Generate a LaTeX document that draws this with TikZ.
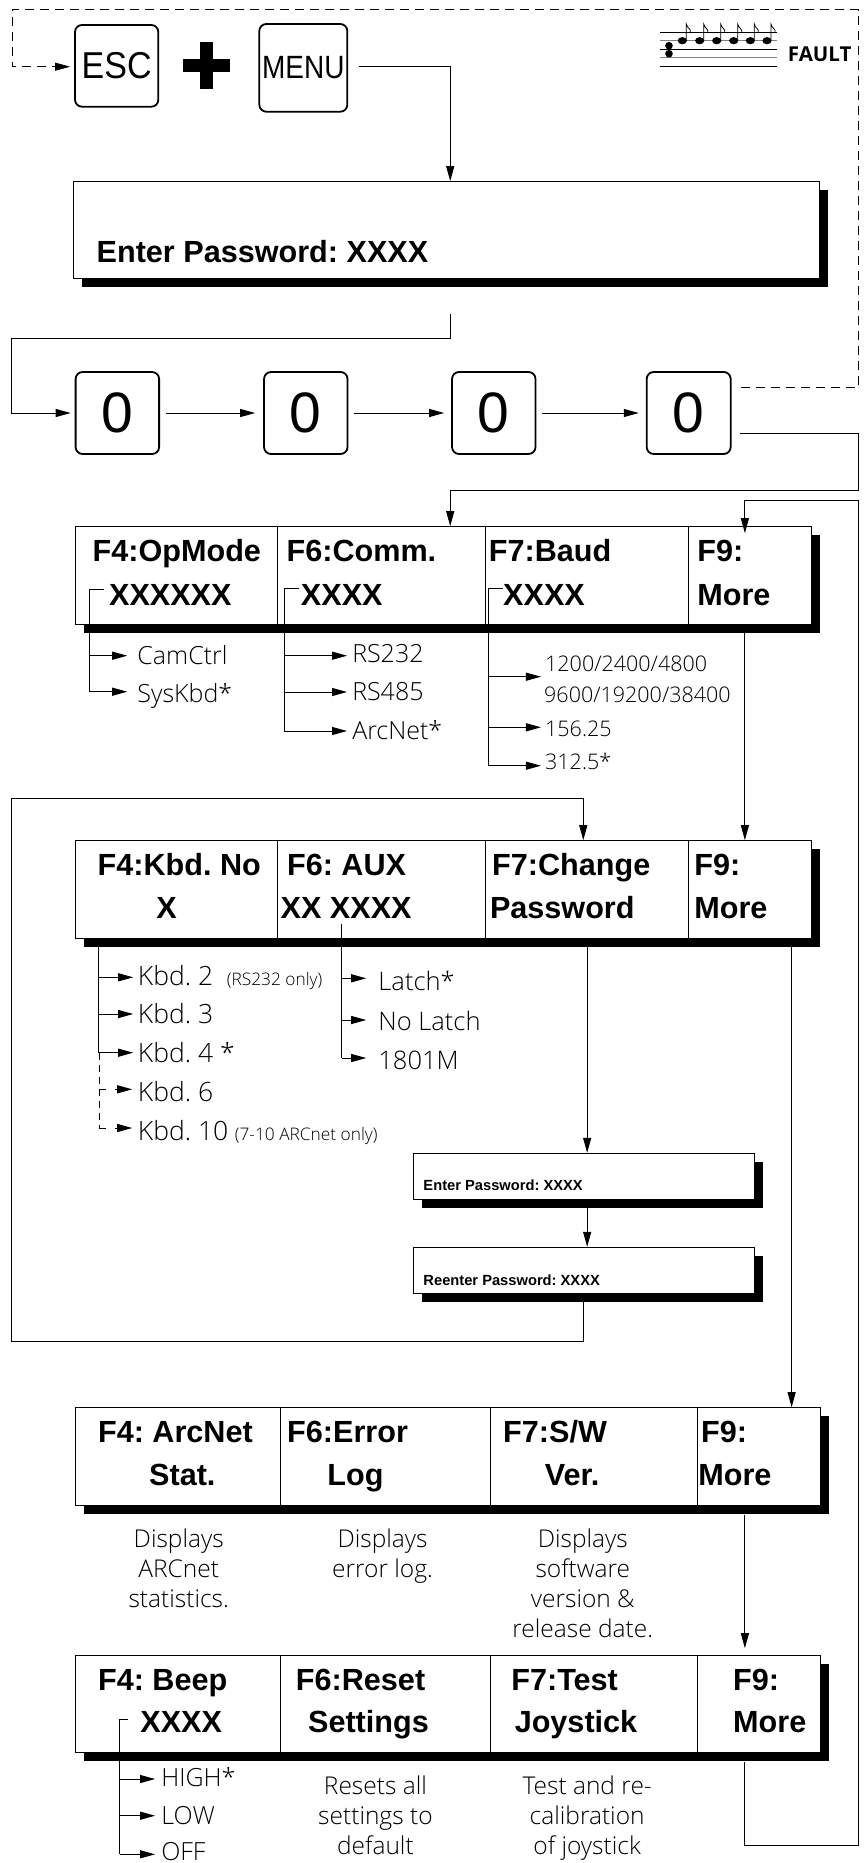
\documentclass[tikz,border=0pt]{standalone}
\usepackage{fontspec}
\setmainfont{Liberation Sans}
\newfontfamily\optfont{Open Sans}[UprightFont=* Light,BoldFont=* Bold]
\usetikzlibrary{arrows.meta,shadows}
\newcommand{\menufont}{\bfseries\fontsize{30.6}{36}\selectfont}
\newcommand{\smallmenufont}{\bfseries\fontsize{14.7}{18}\selectfont}
\tikzset{
  panel/.style={draw, fill=white, inner sep=0pt, line width=1pt,
    drop shadow={shadow xshift=8.5pt, shadow yshift=-8.5pt, fill=black, opacity=1}},
  keybox/.style={draw, fill=white, rounded corners=7pt, line width=1.8pt, inner sep=0pt},
  lab/.style={anchor=base west, inner sep=0pt, font=\menufont},
  optlab/.style={anchor=base west, inner sep=0pt, font=\optfont\fontsize{25}{30}\selectfont},
  kbdlab/.style={anchor=base west, inner sep=0pt, font=\optfont\fontsize{26.5}{30}\selectfont},
  baudlab/.style={anchor=base west, inner sep=0pt, font=\optfont\fontsize{21.5}{26}\selectfont},
  notelab/.style={anchor=base west, inner sep=0pt, font=\optfont\fontsize{17.3}{20}\selectfont},
  desc/.style={anchor=north, align=center, inner sep=0pt, font=\optfont\fontsize{24.5}{30}\selectfont},
  conn/.style={line width=1pt},
  arr/.style={conn, -{Triangle[length=15pt,width=8pt]}},
  dashline/.style={line width=0.8pt, dash pattern=on 9pt off 6pt}
}

\begin{document}
\frenchspacing
\begin{tikzpicture}[x=0.9945pt, y=-1pt]
  \useasboundingbox (0,0) rectangle (867.8,1863);

  % ---------- key combination and fault tune ----------
  \node[keybox, minimum width=83.3pt, minimum height=81.7pt, font=\fontsize{34}{40}\selectfont] (esckey) at (117.3,65.85) {\scalebox{1}[1.1]{ESC}};
  \node[keybox, minimum width=88pt, minimum height=87.7pt, font=\fontsize{28}{32}\selectfont] (menukey) at (305,67.85) {\scalebox{1}[1.15]{MENU}};
  \fill (201,42.3) rectangle (214,88.7);
  \fill (184,59) rectangle (231,71.7);

  \begin{scope}[x=1pt]
    \foreach \y/\c in {32.3/black,40.7/gray,49.3/black,57.7/gray,66.3/black}
      \draw[color=\c, line width=1pt] (660,\y) -- (777,\y);
    \fill (669,45.7) circle (3.8);
    \fill (669,53.7) circle (3.8);
    \foreach \x in {682.3,699.7,716.7,733.7,750.3,767} {
      \fill (\x,40.7) ellipse (4.6 and 3.6);
      \draw[line width=0.8pt] (\x+4,40) -- (\x+4,24) .. controls (\x+5,29) and (\x+9,28) .. (\x+8,33);
    }
    \node[lab, font=\optfont\bfseries\fontsize{20.5}{26}\selectfont] (faultlab) at (787.7,61.7) {FAULT};
  \end{scope}

  % ---------- password prompt and the four zero keys ----------
  \node[panel, minimum width=746pt, minimum height=97.3pt] (enterbox) at (449,230.3) {};
  \node[lab] (enterlab) at (97,262) {Enter Password: XXXX};

  \node[keybox, minimum width=83.5pt, minimum height=82pt, font=\fontsize{57}{60}\selectfont] (keyone) at (118,413) {0};
  \node[keybox, minimum width=83.5pt, minimum height=82pt, font=\fontsize{57}{60}\selectfont] (keytwo) at (307.5,413) {0};
  \node[keybox, minimum width=83.5pt, minimum height=82pt, font=\fontsize{57}{60}\selectfont] (keythree) at (496.5,413) {0};
  \node[keybox, minimum width=84pt, minimum height=82pt, font=\fontsize{57}{60}\selectfont] (keyfour) at (692.5,413) {0};

  \coordinate (enterout) at (452.7,314);
  \coordinate (leftturn) at (11.6,338);
  \draw[arr, shorten <=11pt, shorten >=0pt] (menukey.east |- 0,66) -| (452.7,0 |- enterbox.north);
  \draw[arr, shorten >=4pt] (enterout) |- (leftturn) |- (keyone.west);
  \draw[arr, shorten <=6pt, shorten >=8pt] (keyone.east) -- (keytwo.west);
  \draw[arr, shorten <=6pt, shorten >=7pt] (keytwo.east) -- (keythree.west);
  \draw[arr, shorten <=6pt, shorten >=7pt] (keythree.east) -- (keyfour.west);

  % fault loop back to ESC
  \coordinate (dashse) at (863.4,387.7);
  \coordinate (dashne) at (863.4,9.5);
  \coordinate (dashnw) at (12,9.5);
  \draw[dashline, -{Triangle[length=15pt,width=8pt]}, shorten <=9.5pt, shorten >=4pt]
    (keyfour.east |- dashse) -- (dashse) -- (dashne) -- (dashnw) |- (esckey.west |- 0,66.7);

  % ---------- first menu ----------
  \node[panel, minimum width=735.5pt, minimum height=97.3pt] (mone) at (445.7,575.35) {};
  \foreach \x in {279,488,692.7} \draw[conn] (\x,0 |- mone.north) -- (\x,0 |- mone.south);
  \node[lab] (opmode) at (93,561.7) {F4:OpMode};
  \node[lab] (opval) at (109.5,605) {XXXXXX};
  \node[lab] (comm) at (288,561.7) {F6:Comm.};
  \node[lab] (commval) at (302.4,605) {XXXX};
  \node[lab] (baud) at (491.4,561.7) {F7:Baud};
  \node[lab] (baudval) at (505.8,605) {XXXX};
  \node[lab] (moreone) at (701,561.7) {F9:};
  \node[lab] (moreoneb) at (701,605) {More};

  \node[optlab] (camctrl) at (138,664) {CamCtrl};
  \node[optlab] (syskbd) at (138,702) {SysKbd*};
  \node[optlab] (rstwo) at (354,662.7) {RS232};
  \node[optlab] (rsfour) at (354,700.7) {RS485};
  \node[optlab] (arcnet) at (354,739.3) {ArcNet*};
  \node[baudlab] (baudone) at (548,671) {1200/2400/4800};
  \node[baudlab] (baudtwo) at (547,702.7) {9600/19200/38400};
  \node[baudlab] (baudthree) at (548,736) {156.25};
  \node[baudlab] (baudfour) at (548,769.3) {312.5*};

  \coordinate (rightone) at (863.4,433.3);
  \coordinate (righttwo) at (863.4,490.7);
  \draw[arr, shorten <=8.5pt] (keyfour.east |- rightone) -- (rightone) -- (righttwo) -| (452.7,0 |- mone.north);

  \coordinate (opstart) at (105,589);
  \coordinate (opend) at (90,691.7);
  \draw[conn] (opstart) -| (opend);
  \foreach \n/\y in {camctrl/655.7,syskbd/691.7}
    \draw[arr, shorten >=10pt] (opend |- 0,\y) -- (\n.west |- 0,\y);
  \coordinate (commstart) at (301,588);
  \coordinate (commend) at (285.8,731);
  \draw[conn] (commstart) -| (commend);
  \foreach \n/\y in {rstwo/655.7,rsfour/692,arcnet/731}
    \draw[arr, shorten >=5pt] (commend |- 0,\y) -- (\n.west |- 0,\y);
  \coordinate (baudstart) at (505.8,588);
  \coordinate (baudend) at (491.4,765.7);
  \draw[conn] (baudstart) -| (baudend);
  \foreach \n/\y in {baudone/676.7,baudthree/727.3,baudfour/765.7}
    \draw[arr, shorten >=4pt] (baudend |- 0,\y) -- (\n.west |- 0,\y);

  % ---------- second menu ----------
  \node[panel, minimum width=735.5pt, minimum height=97.6pt] (mtwo) at (445.7,889.5) {};
  \foreach \x in {279,488,692.7} \draw[conn] (\x,0 |- mtwo.north) -- (\x,0 |- mtwo.south);
  \node[lab] (kbdno) at (98,875.7) {F4:Kbd. No};
  \node[lab, anchor=base] (kbdval) at (167.5,918.3) {X};
  \node[lab] (aux) at (288.5,875.7) {F6: AUX};
  \node[lab] (auxval) at (282,918.3) {XX XXXX};
  \node[lab] (change) at (494.7,875.7) {F7:Change};
  \node[lab] (passw) at (492.5,918.3) {Password};
  \node[lab] (moretwo) at (698,875.7) {F9:};
  \node[lab] (moretwob) at (698,918.3) {More};
  \draw[arr] (749,0 |- mone.south) ++(0,8.5) -- (749,0 |- mtwo.north);

  \node[kbdlab] (kbdtwo) at (138.5,985) {Kbd. 2};
  \node[notelab] (kbdtwonote) at (228,985) {(RS232 only)};
  \node[kbdlab] (kbdthree) at (138.5,1023.3) {Kbd. 3};
  \node[kbdlab] (kbdfour) at (138.5,1062.3) {Kbd. 4 *};
  \node[kbdlab] (kbdsix) at (138.5,1101.7) {Kbd. 6};
  \node[kbdlab] (kbdten) at (138.5,1140) {Kbd. 10};
  \node[notelab] (kbdtennote) at (236,1140) {(7-10 ARCnet only)};
  \node[optlab, font=\optfont\fontsize{25.5}{30}\selectfont] (latch) at (380.3,990.7) {Latch*};
  \node[optlab, font=\optfont\fontsize{25.5}{30}\selectfont] (nolatch) at (380.3,1030) {No Latch};
  \node[optlab, font=\optfont\fontsize{25.5}{30}\selectfont] (eighteen) at (380.3,1069) {1801M};

  \coordinate (kbdsolid) at (99.5,1053);
  \coordinate (kbdend) at (99.5,1128);
  \draw[conn] (99.5,0 |- mtwo.south) -- (kbdsolid);
  \draw[dashline, dash pattern=on 7pt off 5pt] (kbdsolid) -- (kbdend);
  \foreach \n/\y in {kbdtwo/977.3,kbdthree/1014,kbdfour/1052.7}
    \draw[arr, shorten >=4.5pt] (kbdsolid |- 0,\y) -- (\n.west |- 0,\y);
  \foreach \n/\y in {kbdsix/1089.3,kbdten/1128}
    \draw[conn, dash pattern=on 7pt off 9pt, -{Triangle[length=15pt,width=8pt]}, shorten >=5.5pt] (kbdend |- 0,\y) -- (\n.west |- 0,\y);

  \coordinate (auxstart) at (343.8,924.3);
  \coordinate (auxend) at (343.8,1058);
  \draw[conn] (auxstart) -- (auxend);
  \foreach \n/\y in {latch/978.3,nolatch/1020,eighteen/1058}
    \draw[arr, shorten >=12pt] (auxend |- 0,\y) -- (\n.west |- 0,\y);

  % ---------- change password ----------
  \node[panel, minimum width=341pt, minimum height=45.7pt] (passone) at (587.5,1176.2) {};
  \node[lab, font=\smallmenufont] (passonelab) at (425.6,1190.7) {Enter Password: XXXX};
  \node[panel, minimum width=341pt, minimum height=46pt] (passtwo) at (587.5,1270.3) {};
  \node[lab, font=\smallmenufont] (passtwolab) at (425.6,1285) {Reenter Password: XXXX};
  \draw[arr] (590.4,0 |- mtwo.south) ++(0,8.5) -- (590.4,0 |- passone.north);
  \draw[arr] (590.4,0 |- passone.south) ++(0,8.5) -- (590.4,0 |- passtwo.north);

  \coordinate (loopse) at (586.5,1341.7);
  \coordinate (loopw) at (12,1341.7);
  \coordinate (loopn) at (12,798.3);
  \draw[arr] (586.5,0 |- passtwo.south) ++(0,8.5) -- (loopse) -- (loopw) -- (loopn) -| (586.5,0 |- mtwo.north);

  % ---------- third menu ----------
  \node[panel, minimum width=745.2pt, minimum height=97.6pt] (mthree) at (450.35,1456.5) {};
  \foreach \x in {282,493.6,701} \draw[conn] (\x,0 |- mthree.north) -- (\x,0 |- mthree.south);
  \node[lab] (arcstat) at (98.4,1442.7) {F4: ArcNet};
  \node[lab] (arcstatb) at (149.8,1485) {Stat.};
  \node[lab] (errlog) at (288.6,1442.7) {F6:Error};
  \node[lab] (errlogb) at (329,1485) {Log};
  \node[lab] (swver) at (505.8,1442.7) {F7:S/W};
  \node[lab] (swverb) at (547.8,1485) {Ver.};
  \node[lab] (morethree) at (704.8,1442.7) {F9:};
  \node[lab] (morethreeb) at (702,1485) {More};
  \draw[arr] (796,0 |- mtwo.south) ++(0,8.5) -- (796,0 |- mthree.north);

  \node[desc] (arcdesc) at (179.7,1529) {Displays\\ARCnet\\statistics.};
  \node[desc] (errdesc) at (384.7,1529) {Displays\\error log.};
  \node[desc] (swdesc) at (586,1529) {Displays\\software\\version \&\\release date.};

  % ---------- fourth menu ----------
  \node[panel, minimum width=745.2pt, minimum height=97pt] (mfour) at (450.35,1704.2) {};
  \foreach \x in {282,493.6,701} \draw[conn] (\x,0 |- mfour.north) -- (\x,0 |- mfour.south);
  \node[lab] (beep) at (98.4,1690.7) {F4: Beep};
  \node[lab] (beepval) at (141,1732.3) {XXXX};
  \node[lab] (reset) at (297.4,1690.7) {F6:Reset};
  \node[lab] (resetb) at (309.6,1732.3) {Settings};
  \node[lab] (joy) at (514,1690.7) {F7:Test};
  \node[lab] (joyb) at (517.4,1732.3) {Joystick};
  \node[lab] (morefour) at (737,1690.7) {F9:};
  \node[lab] (morefourb) at (737,1732.3) {More};
  \draw[arr, shorten >=7pt] (749,0 |- mthree.south) ++(0,9) -- (749,0 |- mfour.north);

  \node[optlab] (high) at (162,1786) {HIGH*};
  \node[optlab] (low) at (162,1824.3) {LOW};
  \node[optlab] (off) at (162,1860) {OFF};
  \node[desc] (resetdesc) at (377.5,1776) {Resets all\\settings to\\default};
  \node[desc] (joydesc) at (590.4,1776) {Test and re-\\calibration\\of joystick};

  \coordinate (beepstart) at (128.8,1719);
  \coordinate (beepend) at (120.5,1854.3);
  \draw[conn] (beepstart) -| (beepend);
  \foreach \n/\y in {high/1779,low/1815.7,off/1854.3}
    \draw[arr, shorten >=6pt] (beepend |- 0,\y) -- (\n.west |- 0,\y);

  % return from the last F9 to the first
  \coordinate (retsw) at (749,1845.7);
  \coordinate (retse) at (863.4,1845.7);
  \coordinate (retne) at (863.4,500.7);
  \draw[arr, shorten >=-7pt] (749,0 |- mfour.south) ++(0,9) -- (retsw) -- (retse) -- (retne) -| (749,0 |- mone.north);

\end{tikzpicture}
\end{document}
